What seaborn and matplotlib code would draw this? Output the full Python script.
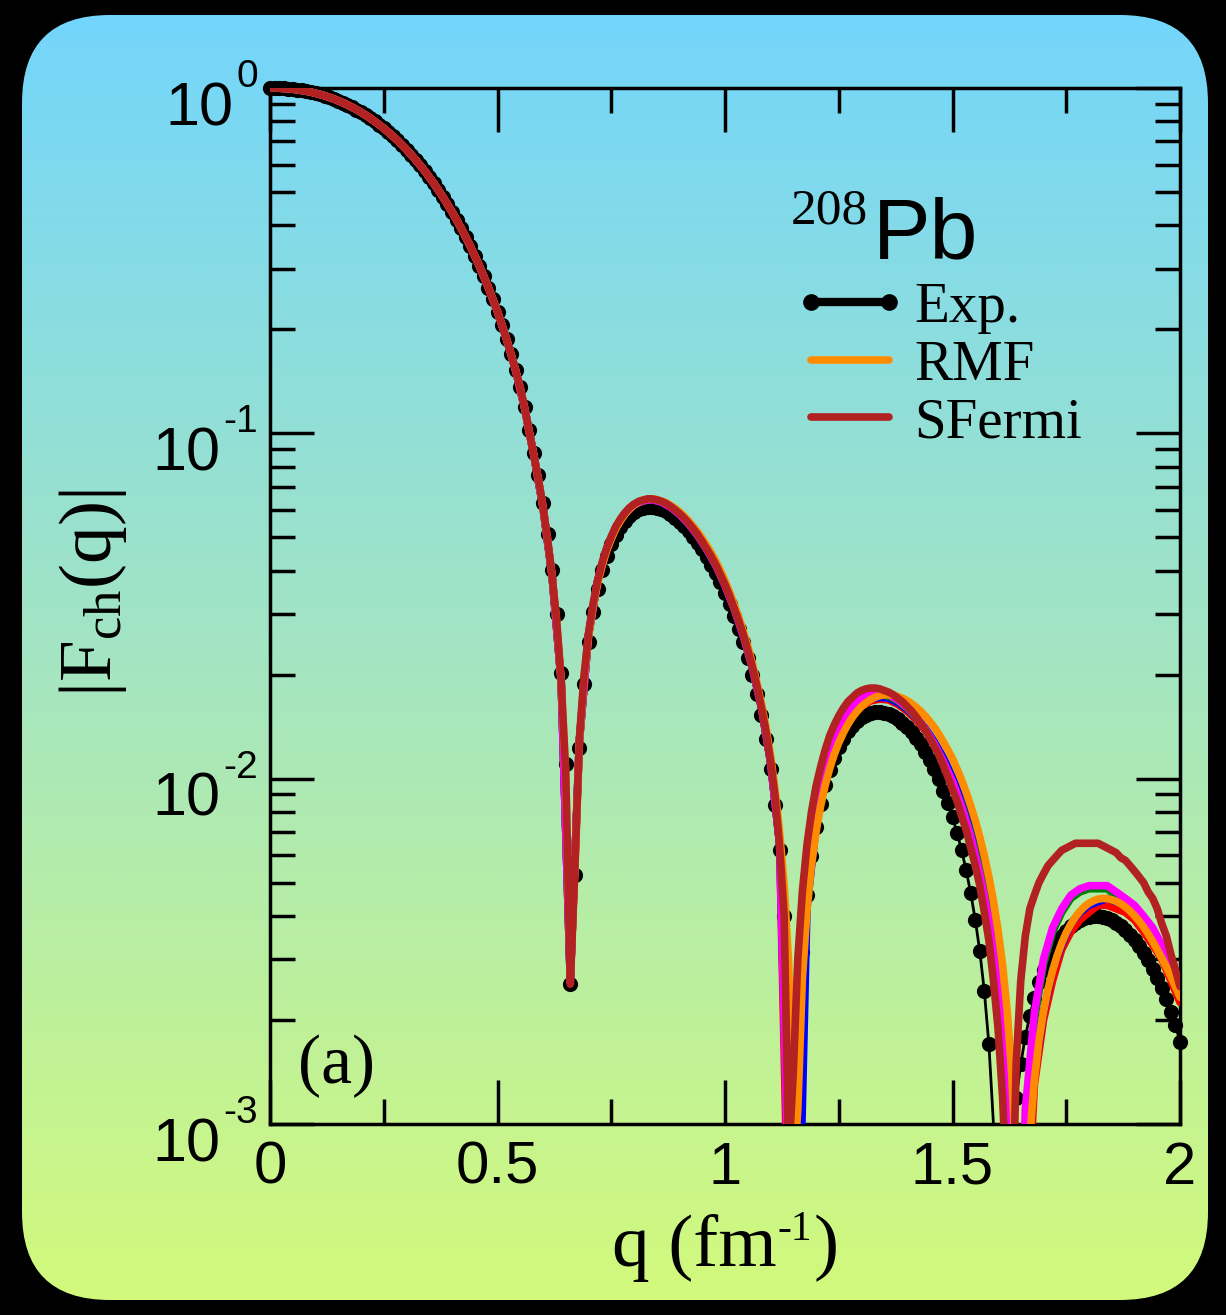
import numpy as np
import matplotlib
matplotlib.use("Agg")
import matplotlib.pyplot as plt
import matplotlib.transforms as mtransforms
import seaborn as sns
from matplotlib.patches import FancyBboxPatch
from matplotlib.lines import Line2D
from matplotlib.colors import LinearSegmentedColormap
from matplotlib.ticker import MultipleLocator, LogLocator, NullFormatter, FuncFormatter

# q grids of the tabulated form factors (fm^-1)
q_fine = np.linspace(0.0, 2.0, 201)    # step 0.01
q_coarse = np.linspace(0.0, 2.0, 101)  # step 0.02

# |F_ch(q)| experimental points, q = 0.00 ... 2.00
exp_fq = [
    1.0, 0.9997, 0.9989, 0.9974, 0.9952, 0.9923, 0.9886, 0.9841, 0.9789, 0.9729,
    0.9659, 0.9582, 0.9496, 0.9402, 0.9300, 0.9189, 0.9069, 0.8941, 0.8805, 0.8662,
    0.8510, 0.8350, 0.8183, 0.8009, 0.7828, 0.7641, 0.7453, 0.7256, 0.7052, 0.6846,
    0.6633, 0.6418, 0.6196, 0.5974, 0.5751, 0.5526, 0.5294, 0.5069, 0.4837, 0.4608,
    0.4380, 0.4153, 0.3928, 0.3707, 0.3485, 0.3269, 0.3056, 0.2848, 0.2643, 0.2443,
    0.2249, 0.2060, 0.1876, 0.1699, 0.1528, 0.1365, 0.1190, 0.1020, 0.0880, 0.0755,
    0.0630, 0.0512, 0.0402, 0.0300, 0.0202, 0.0110, 0.00254, 0.00525, 0.0123, 0.0188,
    0.0249, 0.0304, 0.0355, 0.0401, 0.0441, 0.0477, 0.0509, 0.0536, 0.0558, 0.0577,
    0.0591, 0.0602, 0.0608, 0.0612, 0.0612, 0.0609, 0.0603, 0.0594, 0.0583, 0.0570,
    0.0555, 0.0539, 0.0521, 0.0502, 0.0482, 0.0461, 0.0439, 0.0417, 0.0394, 0.0370,
    0.0346, 0.0321, 0.0296, 0.0272, 0.0248, 0.0224, 0.0200, 0.0176, 0.0153, 0.0130,
    0.0107, 0.0084, 0.0062, 0.0040, 0.0019, 0.00015, 0.00165, 0.00315, 0.00460, 0.00597,
    0.00726, 0.00846, 0.00957, 0.01059, 0.01151, 0.01234, 0.01307, 0.01371, 0.01425, 0.01470,
    0.01505, 0.01532, 0.01550, 0.01559, 0.01560, 0.01553, 0.01538, 0.01516, 0.01487, 0.01452,
    0.01411, 0.01365, 0.01313, 0.01257, 0.01196, 0.01132, 0.01065, 0.00995, 0.00923, 0.00849,
    0.00773, 0.00697, 0.00620, 0.00543, 0.00466, 0.00391, 0.00316, 0.00242, 0.00170, 0.00100,
    0.00033, 0.00018, 0.00053, 0.00086, 0.00119, 0.00149, 0.00179, 0.00206, 0.00232, 0.00257,
    0.00279, 0.00300, 0.00318, 0.00335, 0.00350, 0.00363, 0.00374, 0.00383, 0.00390, 0.00395,
    0.00398, 0.00400, 0.00400, 0.00398, 0.00394, 0.00389, 0.00382, 0.00374, 0.00364, 0.00353,
    0.00341, 0.00328, 0.00313, 0.00298, 0.00282, 0.00265, 0.00248, 0.00230, 0.00211, 0.00193,
    0.00173,
]

# first lobe shared by RMF and SFermi, q = 0.00 ... 0.65
lobe1_models = [
    1.0, 0.9997, 0.9989, 0.9974, 0.9952, 0.9923, 0.9886, 0.9841, 0.9789, 0.9729,
    0.9659, 0.9582, 0.9496, 0.9402, 0.9300, 0.9189, 0.9069, 0.8941, 0.8805, 0.8662,
    0.8510, 0.8350, 0.8183, 0.8009, 0.7828, 0.7641, 0.7453, 0.7256, 0.7052, 0.6846,
    0.6633, 0.6418, 0.6196, 0.5974, 0.5751, 0.5526, 0.5294, 0.5069, 0.4837, 0.4608,
    0.4380, 0.4153, 0.3928, 0.3707, 0.3485, 0.3269, 0.3056, 0.2848, 0.2643, 0.2443,
    0.2249, 0.2058, 0.1872, 0.1693, 0.1520, 0.1355, 0.1177, 0.1004, 0.0862, 0.0736,
    0.0611, 0.0494, 0.0386, 0.0286, 0.0191, 0.0103,
]

# RMF, q = 0.66 ... 2.00
rmf_tail = [
    0.0027, 0.0054, 0.0127, 0.0194,
    0.0257, 0.0314, 0.0367, 0.0415, 0.0457, 0.0495, 0.0529, 0.0558, 0.0583, 0.0604,
    0.0620, 0.0633, 0.0641, 0.0646, 0.0646, 0.0643, 0.0637, 0.0630, 0.0619, 0.0607,
    0.0592, 0.0576, 0.0558, 0.0538, 0.0518, 0.0496, 0.0473, 0.0450, 0.0426, 0.0400,
    0.0374, 0.0347, 0.0320, 0.0294, 0.0268, 0.0242, 0.0216, 0.0190, 0.0165, 0.0141,
    0.0117, 0.0093, 0.0070, 0.0049, 0.0029, 0.0007, 0.0011, 0.00263, 0.00414, 0.00561,
    0.0070, 0.00832, 0.00954, 0.01069, 0.01175, 0.0127, 0.01357, 0.01436, 0.01505, 0.01566,
    0.01618, 0.0166, 0.01695, 0.01721, 0.01739, 0.01749, 0.0175, 0.01743, 0.01729, 0.0171,
    0.01683, 0.0165, 0.0161, 0.01568, 0.01519, 0.01465, 0.01408, 0.01344, 0.01277, 0.01209,
    0.01142, 0.01066, 0.00991, 0.00913, 0.00835, 0.00757, 0.00678, 0.00598, 0.00519, 0.00442,
    0.00365, 0.00289, 0.00214, 0.00141, 0.00072, 0.00005, 0.00048, 0.00092, 0.00134, 0.00174,
    0.00211, 0.00246, 0.00278, 0.00307, 0.00334, 0.00358, 0.00379, 0.00397, 0.00413, 0.00426,
    0.00436, 0.00443, 0.00448, 0.00450, 0.00449, 0.00446, 0.00441, 0.00434, 0.00425, 0.00414,
    0.00401, 0.00387, 0.00372, 0.00355, 0.00338, 0.00320, 0.00302, 0.00285, 0.00267, 0.00250,
    0.00233,
]

# SFermi, q = 0.66 ... 2.00
sfermi_tail = [
    0.00254, 0.0055, 0.0130, 0.0198,
    0.0263, 0.0321, 0.0375, 0.0423, 0.0465, 0.0503, 0.0537, 0.0565, 0.0589, 0.0609,
    0.0624, 0.0635, 0.0641, 0.0646, 0.0646, 0.0642, 0.0636, 0.0627, 0.0615, 0.0601,
    0.0586, 0.0569, 0.0550, 0.0530, 0.0509, 0.0486, 0.0463, 0.0440, 0.0416, 0.0390,
    0.0365, 0.0339, 0.0312, 0.0287, 0.0262, 0.0236, 0.0211, 0.0186, 0.0161, 0.0137,
    0.0113, 0.0089, 0.0064, 0.0040, 0.0008, 0.0014, 0.0030, 0.0047, 0.0064, 0.0080,
    0.0095, 0.0108, 0.0121, 0.0133, 0.0143, 0.0152, 0.0160, 0.0167, 0.0172, 0.0177,
    0.0180, 0.0182, 0.0183, 0.0183, 0.0182, 0.0180, 0.0178, 0.0175, 0.0171, 0.0167,
    0.0162, 0.0157, 0.0151, 0.0145, 0.0138, 0.0131, 0.0124, 0.0117, 0.0109, 0.0101,
    0.0093, 0.0086, 0.0078, 0.0071, 0.0063, 0.0056, 0.0049, 0.0041, 0.0034, 0.0026,
    0.0019, 0.0012, 0.0006, 0.0004, 0.0015, 0.0026, 0.0035, 0.0042, 0.0046, 0.0050,
    0.0053, 0.0056, 0.0058, 0.0060, 0.0062, 0.0063, 0.0064, 0.0065, 0.0065, 0.0065,
    0.0065, 0.0065, 0.0065, 0.0064, 0.0063, 0.0062, 0.0061, 0.0059, 0.0058, 0.0056,
    0.0054, 0.0052, 0.0050, 0.0047, 0.0045, 0.0042, 0.0038, 0.0035, 0.0031, 0.0028,
    0.0025,
]

rmf_fq = lobe1_models + rmf_tail
sfermi_fq = lobe1_models + sfermi_tail

# other parametrisations (unlabelled), q = 0.00 ... 1.12 step 0.02 shared
other_low = [
    1.0, 0.9989, 0.9952, 0.9886, 0.9789, 0.9659, 0.9496, 0.9300, 0.9069, 0.8805,
    0.8510, 0.8183, 0.7828, 0.7453, 0.7052, 0.6633, 0.6196, 0.5751, 0.5294, 0.4837,
    0.4380, 0.3928, 0.3485, 0.3056, 0.2643, 0.2249, 0.1872, 0.1520, 0.1177, 0.0862,
    0.0611, 0.0386, 0.0191, 0.0026, 0.0129, 0.0261, 0.0373, 0.0463, 0.0534, 0.0586,
    0.0621, 0.0638, 0.0643, 0.0633, 0.0612, 0.0583, 0.0547, 0.0506, 0.0461, 0.0414,
    0.0363, 0.0311, 0.0260, 0.0210, 0.0161, 0.0112, 0.0065,
]
# q = 1.14 ... 2.00 step 0.02
magenta_tail = [
    0.0006, 0.0022, 0.0054, 0.0083, 0.0110, 0.0132, 0.0150, 0.0163, 0.0172, 0.0177,
    0.0178, 0.0175, 0.0169, 0.0161, 0.0151, 0.0139, 0.0126, 0.0112, 0.0098, 0.0083,
    0.0068, 0.0053, 0.0039, 0.0025, 0.0012, 0.0001, 0.0011, 0.0021, 0.0030, 0.0037,
    0.0042, 0.0046, 0.0048, 0.0049, 0.0049, 0.0049, 0.0047, 0.0045, 0.0043, 0.0040,
    0.0037, 0.0033, 0.0029, 0.0025,
]
green_tail = [
    0.0006, 0.0020, 0.0051, 0.0081, 0.0108, 0.0130, 0.0148, 0.0161, 0.0170, 0.0175,
    0.0176, 0.0173, 0.0168, 0.0160, 0.0150, 0.0139, 0.0126, 0.0112, 0.0098, 0.0084,
    0.0069, 0.0055, 0.0041, 0.0027, 0.0014, 0.0002, 0.0010, 0.0020, 0.0029, 0.0036,
    0.0041, 0.0045, 0.0047, 0.0048, 0.0048, 0.0048, 0.0046, 0.0044, 0.0042, 0.0039,
    0.0036, 0.0032, 0.0029, 0.0025,
]
blue_tail = [
    0.0025, 0.0003, 0.0042, 0.0073, 0.0100, 0.0122, 0.0140, 0.0154, 0.0164, 0.0170,
    0.0172, 0.0171, 0.0166, 0.0159, 0.0150, 0.0140, 0.0128, 0.0115, 0.0101, 0.0087,
    0.0073, 0.0059, 0.0045, 0.0031, 0.0018, 0.0004, 0.0006, 0.0014, 0.0021, 0.0028,
    0.0033, 0.0038, 0.0041, 0.0043, 0.0044, 0.0045, 0.0044, 0.0043, 0.0041, 0.0038,
    0.0035, 0.0032, 0.0028, 0.0024,
]
red_tail = [
    0.0004, 0.0013, 0.0044, 0.0073, 0.0099, 0.0121, 0.0139, 0.0153, 0.0162, 0.0168,
    0.0170, 0.0169, 0.0164, 0.0157, 0.0148, 0.0138, 0.0126, 0.0113, 0.0100, 0.0086,
    0.0072, 0.0058, 0.0044, 0.0030, 0.0017, 0.0004, 0.0004, 0.0013, 0.0020, 0.0026,
    0.0032, 0.0036, 0.0039, 0.0041, 0.0043, 0.0043, 0.0042, 0.0041, 0.0039, 0.0036,
    0.0033, 0.0030, 0.0026, 0.00225,
]

x_ticks = [0, 0.5, 1, 1.5, 2]
y_decades = [0, -1, -2, -3]
legend_labels = ["Exp.", "RMF", "SFermi"]

# ------------------------------------------------------------------
sns.set_style("ticks")
plt.rcParams.update({
    "text.color": "black",
    "mathtext.fontset": "custom",
    "mathtext.rm": "Liberation Serif",
    "mathtext.it": "Liberation Serif:italic",
    "mathtext.bf": "Liberation Serif:bold",
})
SANS = "Liberation Sans"
SERIF = "Liberation Serif"

W, H = 1226, 1315
fig = plt.figure(figsize=(W / 100, H / 100), dpi=100)
fig.patch.set_facecolor("black")

# rounded gradient panel behind the plot
bg = fig.add_axes([0, 0, 1, 1], zorder=0)
cmap = LinearSegmentedColormap.from_list("panel", ["#72d5fd", "#a4e5c2", "#d4fa7a"])
img = bg.imshow(np.linspace(0, 1, 512)[:, None], extent=(0, W, H, 0), cmap=cmap,
                aspect="auto", interpolation="bilinear")
bg.set_xlim(0, W)
bg.set_ylim(H, 0)
bg.set_axis_off()
panel = FancyBboxPatch((22, 15), 1186, 1285, boxstyle="round,pad=0,rounding_size=88",
                       transform=bg.transData, fc="none", ec="none")
bg.add_patch(panel)
img.set_clip_path(panel)

ax = fig.add_axes([270 / W, 1 - 1124 / H, 910 / W, 1036 / H], zorder=1)
ax.set_facecolor("none")
ax.set_yscale("log")

exp_arr = np.array(exp_fq)
seen = exp_arr > 1e-3

sns.lineplot(x=q_fine, y=exp_arr, ax=ax, color="black", lw=2, zorder=1.8,
             estimator=None, sort=False, legend=False)
sns.scatterplot(x=q_fine[seen], y=exp_arr[seen], ax=ax, color="black", s=120,
                linewidth=0, zorder=2, clip_on=False, legend=False)

others = [(red_tail, "#ff0000", 3.0), (blue_tail, "#0000ff", 3.1),
          (green_tail, "#008000", 3.2), (magenta_tail, "#ff00ff", 3.3)]
for tail, col, z in others:
    sns.lineplot(x=q_coarse, y=other_low + tail, ax=ax, color=col, lw=5.5, zorder=z,
                 estimator=None, sort=False, legend=False)
sns.lineplot(x=q_fine, y=rmf_fq, ax=ax, color="#ff8c00", lw=5.5, zorder=3.4,
             estimator=None, sort=False, legend=False)
sns.lineplot(x=q_fine, y=sfermi_fq, ax=ax, color="#b22222", lw=5.5, zorder=3.5,
             estimator=None, sort=False, legend=False)

ax.set_xlim(0, 2)
ax.set_ylim(1e-3, 1)
ax.set_xlabel("")
ax.set_ylabel("")
ax.set_xticks(x_ticks)
ax.xaxis.set_minor_locator(MultipleLocator(0.25))
ax.xaxis.set_major_formatter(FuncFormatter(lambda v, _: f"{v:g}"))
ax.yaxis.set_major_locator(LogLocator(base=10, numticks=10))
ax.yaxis.set_minor_locator(LogLocator(base=10, subs=np.arange(2, 10) * 1.0, numticks=20))
ax.yaxis.set_minor_formatter(NullFormatter())
for sp in ax.spines.values():
    sp.set_linewidth(2.5)
    sp.set_color("black")
ax.tick_params(which="both", direction="in", top=True, right=True, width=2.5, color="black")
ax.tick_params(which="major", length=32)
ax.tick_params(which="minor", length=18)
ax.tick_params(axis="x", which="major", labelsize=43, pad=12, labelcolor="black",
               labelfontfamily=SANS)
ax.tick_params(axis="y", which="both", labelleft=False)

fig.canvas.draw()
renderer = fig.canvas.get_renderer()

# y tick labels written as 10 with a raised exponent
spine_x = ax.transAxes.transform((0, 0))[0]
ytrans = mtransforms.blended_transform_factory(ax.transAxes, ax.transData)
for d in y_decades:
    sup = ax.text(0, 10.0 ** d, f"{d}", ha="right", va="baseline", fontsize=28,
                  family=SANS, color="black", clip_on=False,
                  transform=mtransforms.offset_copy(ytrans, fig=fig, x=-12, y=1, units="dots"))
    bb = sup.get_window_extent(renderer)
    ax.text(0, 10.0 ** d, "10", ha="right", va="baseline", fontsize=44, family=SANS,
            color="black", clip_on=False,
            transform=mtransforms.offset_copy(ytrans, fig=fig, x=bb.x0 - spine_x - 3,
                                              y=-37, units="dots"))

# x axis title "q (fm^-1)" with a short raised -1
xl_base, xl_center = H - 1266, 725
parts = [fig.text(0, 0, "q (fm", fontsize=54, family=SERIF, color="black",
                  ha="left", va="baseline", transform=None),
         fig.text(0, 0, "-1", fontsize=30, family=SERIF, color="black",
                  ha="left", va="baseline", transform=None),
         fig.text(0, 0, ")", fontsize=54, family=SERIF, color="black",
                  ha="left", va="baseline", transform=None)]
widths = [p.get_window_extent(renderer).width for p in parts]
x_cur = xl_center - (sum(widths) + 2) / 2
for p, w, dy in zip(parts, widths, [0, 26, 0]):
    p.set_position((x_cur, xl_base + dy))
    x_cur += w + 1

fig.text(93 / W, 1 - 593 / H, r"|F$_{\mathrm{ch}}$(q)|", rotation=90, ha="center",
         va="center", fontsize=54, family=SERIF, color="black")
fig.text(298 / W, 1 - 1083 / H, "(a)", ha="left", va="baseline", fontsize=50,
         family=SERIF, color="black")
fig.text(868 / W, 1 - 223 / H, "208", ha="right", va="baseline", fontsize=37,
         family=SERIF, color="black")
fig.text(873 / W, 1 - 258 / H, "Pb", ha="left", va="baseline", fontsize=62,
         family=SANS, color="black")

handles = [Line2D([], [], color="black", lw=6, marker="o", ms=11),
           Line2D([], [], color="#ff8c00", lw=5.5),
           Line2D([], [], color="#b22222", lw=5.5)]
leg = ax.legend(handles, legend_labels, loc="upper left",
                bbox_to_anchor=(794 / W, 1 - 282 / H), bbox_transform=fig.transFigure,
                frameon=False, numpoints=2, handlelength=1.96, handletextpad=0.15,
                labelspacing=0.1, borderpad=0, borderaxespad=0,
                prop={"family": SERIF, "size": 41})
for t in leg.get_texts():
    t.set_color("black")

fig.savefig("out.png", dpi=100, facecolor=fig.get_facecolor())
